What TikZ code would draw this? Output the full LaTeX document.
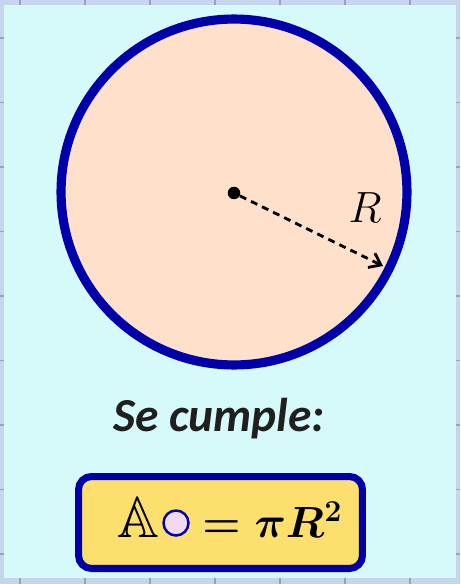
\documentclass[tikz,border=0pt]{standalone}
\usepackage{amsmath,amssymb}
\usepackage{fontspec}
\usepackage{xcolor}
\usetikzlibrary{positioning,arrows.meta}
\newfontfamily\calibrifont{Carlito}
\definecolor{framecolor}{HTML}{C5D5EE}
\definecolor{gridcolor}{HTML}{98A2B4}
\definecolor{panelcolor}{HTML}{D6FAFA}
\definecolor{disccolor}{HTML}{FEE0CB}
\definecolor{rimcolor}{HTML}{0000AA}
\definecolor{boxcolor}{HTML}{FDDF6E}
\definecolor{minicolor}{HTML}{F3D9F0}

\begin{document}
\begin{tikzpicture}[x=0.02cm, y=-0.02cm,
    disc/.style={circle, draw=rimcolor, fill=disccolor, line width=5.2pt, minimum size=6.92cm, inner sep=0pt},
    dot/.style={circle, fill=black, minimum size=0.25cm, inner sep=0pt},
    radius/.style={dashed, dash pattern=on 4pt off 3pt, line width=1.6pt, -{Straight Barb[length=6pt,width=9pt,line width=1.6pt]}},
    formulabox/.style={rounded corners=0.26cm, draw=rimcolor, fill=boxcolor, line width=4pt, minimum width=5.68cm, minimum height=1.84cm},
    mini/.style={circle, draw=rimcolor, fill=minicolor, line width=1.4pt, minimum size=0.5cm, inner sep=0pt},
    formula/.style={anchor=base west, inner sep=0pt, font=\fontsize{23}{28}\selectfont\boldmath}]
  \useasboundingbox (0,0) rectangle (460,584);
  % frame with grid
  \fill[framecolor] (0,0) rectangle (460,584);
  \foreach \x in {20,85,...,415} \draw[gridcolor, line width=0.8pt] (\x,0) -- (\x,584);
  \foreach \y in {38,102.5,...,584} \draw[gridcolor, line width=0.8pt] (0,\y) -- (460,\y);
  \fill[panelcolor] (4,5) rectangle (456,578);
  % circle and radius
  \node[disc] (disc) at (234,192) {};
  \node[dot] (o) at (234,193) {};
  \coordinate (rim) at (383,266);
  \draw[radius] (o) -- (rim);
  \node[anchor=base, inner sep=0pt, font=\fontsize{27}{30}\selectfont] (R) at (365,222) {$R$};
  % area formula
  \node[anchor=base, inner sep=0pt, font=\fontsize{27}{30}\selectfont\calibrifont\bfseries\itshape, text=black!88] (rule) at (219,431) {Se cumple:};
  \node[formulabox] (box) at (220.5,522.5) {};
  \node[formula, font=\fontsize{33}{36}\selectfont] (A) at (117,537) {$\mathbb{A}$};
  \node[mini] (shape) at (176,523) {};
  \node[formula] (eq) at (202,537) {$=\pi R^2$};
\end{tikzpicture}
\end{document}
